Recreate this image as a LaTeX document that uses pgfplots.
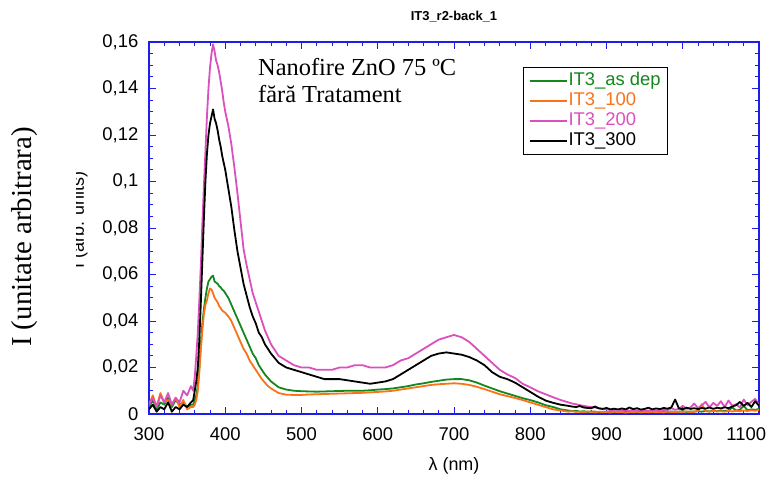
\documentclass[border=0pt]{standalone}
\usepackage{fontspec}
\setmainfont{Liberation Sans}
\newfontfamily\tnr{Liberation Serif}
\usepackage{pgfplots}
\usepackage{pgfplotstable}
\pgfplotsset{compat=1.18}
\definecolor{axblue}{RGB}{30,30,230}
\definecolor{cgreen}{RGB}{20,135,30}
\definecolor{corange}{RGB}{250,115,25}
\definecolor{cmag}{RGB}{220,80,190}

\pgfplotstableread{
w g o m k
300 0.003 0.004 0.004 0.002
305 0.006 0.008 0.007 0.004
310 0.002 0.003 0.003 0.001
315 0.005 0.009 0.008 0.003
320 0.004 0.005 0.005 0.002
325 0.007 0.006 0.009 0.005
330 0.003 0.004 0.004 0.001
335 0.006 0.007 0.007 0.003
340 0.004 0.003 0.005 0.002
345 0.005 0.006 0.010 0.004
350 0.003 0.002 0.008 0.003
355 0.004 0.003 0.012 0.005
358 0.004 0.003 0.010 0.006
360 0.006 0.004 0.016 0.010
362 0.008 0.006 0.025 0.014
364 0.012 0.010 0.035 0.020
366 0.020 0.018 0.049 0.032
368 0.030 0.028 0.064 0.048
370 0.039 0.036 0.082 0.066
372 0.045 0.043 0.098 0.084
374 0.050 0.047 0.113 0.100
376 0.054 0.049 0.128 0.112
378 0.057 0.052 0.140 0.120
380 0.058 0.054 0.149 0.125
382 0.059 0.0535 0.155 0.128
384 0.0595 0.052 0.159 0.131
386 0.057 0.050 0.156 0.127
388 0.0565 0.049 0.152 0.125
390 0.056 0.048 0.150 0.122
392 0.055 0.0465 0.147 0.118
394 0.0545 0.0455 0.143 0.115
396 0.0535 0.0445 0.139 0.111
398 0.053 0.044 0.134 0.108
400 0.052 0.0435 0.130 0.105
404 0.050 0.042 0.124 0.097
408 0.047 0.040 0.116 0.089
412 0.044 0.037 0.106 0.079
416 0.041 0.034 0.095 0.070
420 0.038 0.031 0.083 0.063
424 0.035 0.028 0.071 0.056
428 0.032 0.026 0.064 0.051
432 0.029 0.023 0.058 0.046
436 0.026 0.021 0.052 0.042
440 0.024 0.019 0.048 0.039
444 0.021 0.017 0.044 0.035
448 0.019 0.015 0.040 0.033
452 0.017 0.0135 0.036 0.030
456 0.0155 0.012 0.033 0.028
460 0.014 0.011 0.030 0.026
470 0.0115 0.009 0.025 0.022
480 0.0105 0.0083 0.023 0.020
490 0.010 0.0082 0.021 0.019
500 0.0098 0.0082 0.020 0.018
510 0.0097 0.0084 0.020 0.017
520 0.0096 0.0085 0.019 0.016
530 0.0097 0.0086 0.019 0.015
540 0.0098 0.0087 0.019 0.015
550 0.0099 0.0088 0.020 0.015
560 0.010 0.0089 0.020 0.0145
570 0.010 0.009 0.021 0.014
580 0.010 0.0091 0.021 0.0135
590 0.0102 0.0093 0.020 0.013
600 0.0105 0.0095 0.020 0.0135
610 0.0107 0.0097 0.020 0.014
620 0.011 0.010 0.021 0.015
630 0.0115 0.0105 0.023 0.017
640 0.012 0.011 0.024 0.019
650 0.0127 0.0115 0.026 0.021
660 0.0132 0.012 0.028 0.023
670 0.0138 0.0125 0.030 0.025
680 0.0143 0.0128 0.032 0.026
690 0.0148 0.013 0.033 0.0265
700 0.015 0.0132 0.034 0.026
710 0.015 0.013 0.033 0.0255
720 0.0145 0.0125 0.031 0.0245
730 0.0135 0.0117 0.028 0.023
740 0.0122 0.0107 0.025 0.021
750 0.011 0.0096 0.022 0.018
760 0.0098 0.0085 0.019 0.016
770 0.0088 0.0077 0.017 0.015
780 0.0078 0.0069 0.0155 0.0135
790 0.0068 0.006 0.013 0.0115
800 0.006 0.005 0.0115 0.0095
810 0.005 0.004 0.0098 0.0075
820 0.0038 0.003 0.0085 0.0058
830 0.003 0.002 0.0072 0.0048
840 0.002 0.0015 0.006 0.004
850 0.0015 0.001 0.005 0.0035
855 0.0012 0.0012 0.0045 0.0032
860 0.0014 0.0009 0.0042 0.003
865 0.001 0.001 0.0038 0.0034
870 0.0012 0.0008 0.0035 0.0028
875 0.0009 0.0011 0.0032 0.0026
880 0.0011 0.0009 0.003 0.0025
885 0.001 0.0007 0.0028 0.0032
890 0.0008 0.001 0.0025 0.0024
895 0.001 0.0008 0.0022 0.0022
900 0.0009 0.0009 0.002 0.0026
905 0.0011 0.0007 0.0018 0.002
910 0.0008 0.001 0.0017 0.0023
915 0.001 0.0008 0.002 0.0019
920 0.0009 0.0009 0.0015 0.0024
925 0.0012 0.0006 0.0018 0.002
930 0.0008 0.0009 0.0014 0.0028
935 0.001 0.0008 0.0017 0.0021
940 0.0009 0.001 0.0015 0.0025
945 0.0011 0.0007 0.0013 0.0019
950 0.0008 0.0009 0.0016 0.0022
955 0.001 0.0008 0.0014 0.0027
960 0.0009 0.001 0.0017 0.002
965 0.0012 0.0008 0.0015 0.0024
970 0.0009 0.0009 0.0013 0.0021
975 0.001 0.0007 0.0018 0.0026
980 0.0008 0.001 0.0016 0.0023
985 0.0011 0.0009 0.0025 0.0028
990 0.0009 0.0008 0.0018 0.0062
995 0.001 0.001 0.0022 0.0024
1000 0.0012 0.0009 0.0035 0.002
1005 0.0009 0.0011 0.0022 0.0027
1010 0.0011 0.0008 0.0028 0.0022
1015 0.001 0.001 0.0045 0.0025
1020 0.0012 0.0014 0.0025 0.0021
1025 0.001 0.0042 0.0038 0.0026
1030 0.0013 0.0012 0.0052 0.0023
1035 0.0011 0.001 0.0028 0.0028
1040 0.0014 0.0013 0.0048 0.0022
1045 0.0012 0.0011 0.0035 0.0027
1050 0.0015 0.0012 0.0055 0.0024
1055 0.0013 0.001 0.003 0.0029
1060 0.0016 0.0013 0.0058 0.0025
1065 0.0028 0.0011 0.0035 0.0032
1070 0.0015 0.0014 0.0042 0.0038
1075 0.0018 0.0012 0.0028 0.0052
1080 0.0035 0.0015 0.0062 0.0035
1085 0.0016 0.0013 0.0038 0.0048
1090 0.002 0.0016 0.0052 0.003
1095 0.0018 0.0014 0.0065 0.0055
1100 0.0022 0.0018 0.004 0.0035
}\spectra

\begin{document}
\begin{tikzpicture}[x=1bp,y=1bp]
\begin{axis}[
  scale only axis,
  width=610bp, height=372bp,
  xmin=300, xmax=1100, ymin=0, ymax=0.16,
  xtick={300,400,500,600,700,800,900,1000,1100},
  xticklabels={300,400,500,600,700,800,900,1000,\makebox[14bp][r]{1100}},
  ytick={0,0.02,0.04,0.06,0.08,0.1,0.12,0.14,0.16},
  scaled ticks=false,
  minor x tick num=4, minor y tick num=3,
  tick align=inside, major tick length=7bp, minor tick length=4bp,
  axis line style={draw=axblue, line width=1.1bp},
  tick style={draw=axblue, line width=0.8bp},
  ticklabel style={font=\fontsize{18.5}{21}\selectfont, text=black},
  xticklabel style={inner sep=0bp, yshift=-13.5bp},
  yticklabel style={inner sep=0bp, xshift=-10.5bp},
  /pgf/number format/fixed,
  /pgf/number format/precision=2,
  /pgf/number format/use comma,
  /pgf/number format/1000 sep={},
  /pgf/number format/assume math mode=true,
  legend style={at={(axis description cs:0.613,0.933)}, anchor=north west,
    draw=black, line width=0.6bp, inner xsep=5.5bp, inner ysep=3.5bp,
    font=\fontsize{18.5}{20}\selectfont, row sep=0bp,
    nodes={inner sep=1bp, text height=13.5bp, text depth=4.5bp}},
  legend cell align=left,
  legend image code/.code={\draw[#1, line width=1.8bp] (0bp,0bp) -- (37bp,0bp);},
  every axis plot/.append style={line width=1.8bp, line join=round},
]
\coordinate (A) at (rel axis cs:0,0);
\addplot[cgreen] table[x=w, y=g] {\spectra};
\addlegendentry{\textcolor{cgreen}{IT3\_as dep}}
\addplot[corange] table[x=w, y=o] {\spectra};
\addlegendentry{\textcolor{corange}{IT3\_100}}
\addplot[cmag] table[x=w, y=m] {\spectra};
\addlegendentry{\textcolor{cmag}{IT3\_200}}
\addplot[black] table[x=w, y=k] {\spectra};
\addlegendentry{IT3\_300}
\end{axis}
\begin{scope}[shift={(A)}, shift={(-149,-65)}]
% title
\node[font=\bfseries\fontsize{13}{15}\selectfont] at (454,462) {IT3\_r2-back\_1};
% x label
\node[font=\fontsize{18}{20}\selectfont] at (454,13) {λ (nm)};
% ghost label, partially covered
\begin{scope}
\clip (77,150) rectangle (100,330);
\node[rotate=90, anchor=base, font=\fontsize{18}{20}\selectfont] at (84,259) {I (arb. units)};
\end{scope}
% main y label
\node[rotate=90, anchor=base, font=\tnr\fontsize{29}{33}\selectfont] at (32,242) {I (unitate arbitrara)};
% annotation
\node[anchor=base west, inner sep=0bp, font=\tnr\fontsize{24.5}{27}\selectfont] at (258,403) {Nanofire ZnO 75 ºC};
\node[anchor=base west, inner sep=0bp, font=\tnr\fontsize{24.5}{27}\selectfont] at (258,376) {fără Tratament};
\pgfresetboundingbox
\useasboundingbox (0,0) rectangle (768,479);
\end{scope}
\end{tikzpicture}
\end{document}
